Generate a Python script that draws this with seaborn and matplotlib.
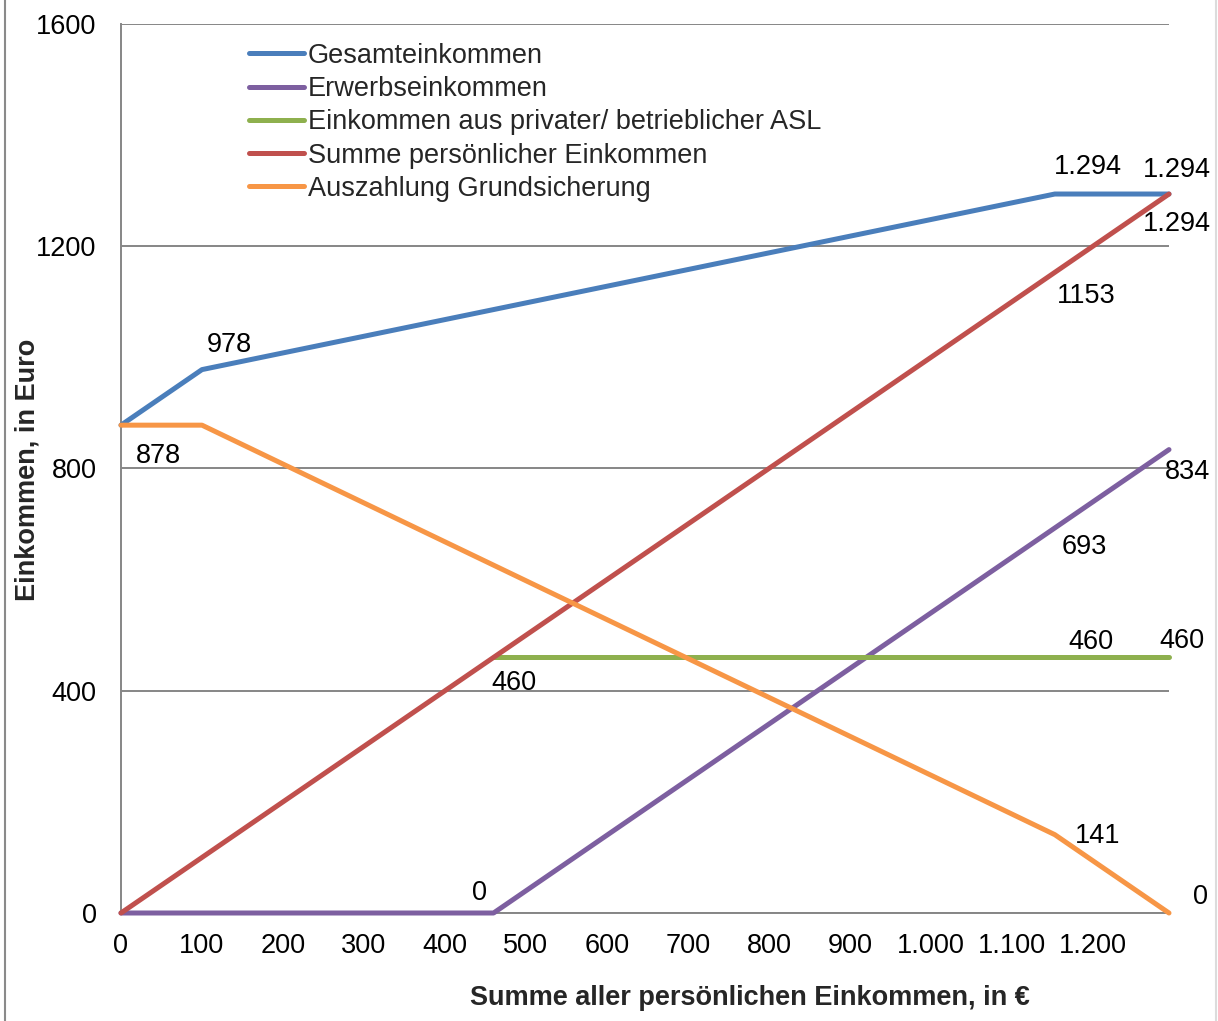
import matplotlib
matplotlib.use("Agg")
import matplotlib.pyplot as plt
from matplotlib.lines import Line2D
from matplotlib.ticker import FuncFormatter
import seaborn as sns
import pandas as pd

# ---- data ----
series_names = [
    "Gesamteinkommen",
    "Erwerbseinkommen",
    "Einkommen aus privater/ betrieblicher ASL",
    "Summe persönlicher Einkommen",
    "Auszahlung Grundsicherung",
]
gesamt_x = [0, 100, 1153, 1294]
gesamt_y = [878, 978, 1294, 1294]
erwerb_x = [0, 460, 1294]
erwerb_y = [0, 0, 834]
asl_x = [460, 1294]
asl_y = [460, 460]
summe_x = [0, 1294]
summe_y = [0, 1294]
grund_x = [0, 100, 1153, 1294]
grund_y = [878, 878, 141, 0]
x_ticks = [0, 100, 200, 300, 400, 500, 600, 700, 800, 900, 1000, 1100, 1200]
y_ticks = [0, 400, 800, 1200, 1600]

colors = ["#4A7EBB", "#7D5FA0", "#8EB04E", "#C0504D", "#F79646"]

frames = []
for name, xs, ys in zip(series_names,
                        [gesamt_x, erwerb_x, asl_x, summe_x, grund_x],
                        [gesamt_y, erwerb_y, asl_y, summe_y, grund_y]):
    frames.append(pd.DataFrame({"x": xs, "y": ys, "Serie": name}))
df = pd.concat(frames, ignore_index=True)

sns.set_theme(style="white")
plt.rcParams["font.family"] = ["Liberation Sans", "DejaVu Sans"]
FS = 19.5

fig = plt.figure(figsize=(12.18, 10.21), dpi=100)
W, H = 1218, 1021
ax = fig.add_axes([121 / W, 1 - 913 / H, (1169 - 121) / W, (913 - 24) / H])

sns.lineplot(data=df, x="x", y="y", hue="Serie", hue_order=series_names,
             palette=colors, linewidth=3.6, sort=False, estimator=None,
             ax=ax, legend=True)
for ln in ax.get_lines():
    ln.set_clip_on(False)
    ln.set_zorder(3)

ax.set_xlim(0, 1294)
ax.set_ylim(0, 1600)
ax.set_xticks(x_ticks)
ax.set_yticks(y_ticks)
ax.xaxis.set_major_formatter(FuncFormatter(lambda v, p: f"{int(v):,}".replace(",", ".")))
ax.yaxis.set_major_formatter(FuncFormatter(lambda v, p: f"{int(v)}"))

grid_c = "#868686"
ax.grid(axis="y", color=grid_c, linewidth=1.4)
ax.set_axisbelow(True)
for s in ["top", "right"]:
    ax.spines[s].set_visible(False)
for s in ["left", "bottom"]:
    ax.spines[s].set_color(grid_c)
    ax.spines[s].set_linewidth(1.4)
ax.tick_params(axis="both", which="major", labelsize=FS, colors="black",
               direction="out", length=6.5, width=1.4)
ax.tick_params(axis="x", color=grid_c, pad=8)
ax.tick_params(axis="y", color=grid_c, pad=11)

ax.set_xlabel("Summe aller persönlichen Einkommen, in €", fontsize=FS, fontweight="bold")
ax.set_ylabel("Einkommen, in Euro", fontsize=FS, fontweight="bold")
ax.xaxis.set_label_coords(0.60, -0.096)
ax.xaxis.label.set_va("center")
ax.yaxis.set_label_coords(-0.0895, 0.498)
ax.yaxis.label.set_va("center")

handles, labels = ax.get_legend_handles_labels()
for h in handles:
    h.set_linewidth(3.6)
    h.set_solid_capstyle("round")
ax.legend(handles, labels, loc="upper left", bbox_to_anchor=(0.122, 0.979),
          frameon=False, fontsize=FS, handlelength=2.05, handletextpad=0.12,
          labelspacing=0.27, borderpad=0, borderaxespad=0)

# ---- value labels (offsets in pixels) ----
def lab(txt, x, y, dx, dy):
    ax.annotate(txt, xy=(x, y), xytext=(dx, dy), textcoords="offset pixels",
                ha="center", va="center", fontsize=FS, color="black")

lab("978", gesamt_x[1], gesamt_y[1], 27, 25)
lab("878", grund_x[0], grund_y[0], 37, -31)
lab("1.294", gesamt_x[2], gesamt_y[2], 33, 27)
lab("1.294", gesamt_x[3], gesamt_y[3], 8, 24)
lab("1.294", summe_x[1], summe_y[1], 8, -30)
lab("1153", 1153, 1153, 31, -24)
lab("834", erwerb_x[2], erwerb_y[2], 19, -22)
lab("693", 1153, 693, 30, -19)
lab("460", 1153, asl_y[1], 36, 15)
lab("460", asl_x[1], asl_y[1], 13, 16)
lab("460", asl_x[0], asl_y[0], 20, -26)
lab("0", erwerb_x[1], erwerb_y[1], -14, 20)
lab("141", grund_x[2], grund_y[2], 43, -1)
lab("0", grund_x[3], grund_y[3], 32, 16)

# figure frame lines
fig.add_artist(Line2D([5 / W, 5 / W], [0, 1], color="#8a8a8a", linewidth=1.5,
                      transform=fig.transFigure))
fig.add_artist(Line2D([1216 / W, 1216 / W], [0, 1], color="#dcdcdc", linewidth=1.5,
                      transform=fig.transFigure))

fig.savefig("out.png", dpi=100)
